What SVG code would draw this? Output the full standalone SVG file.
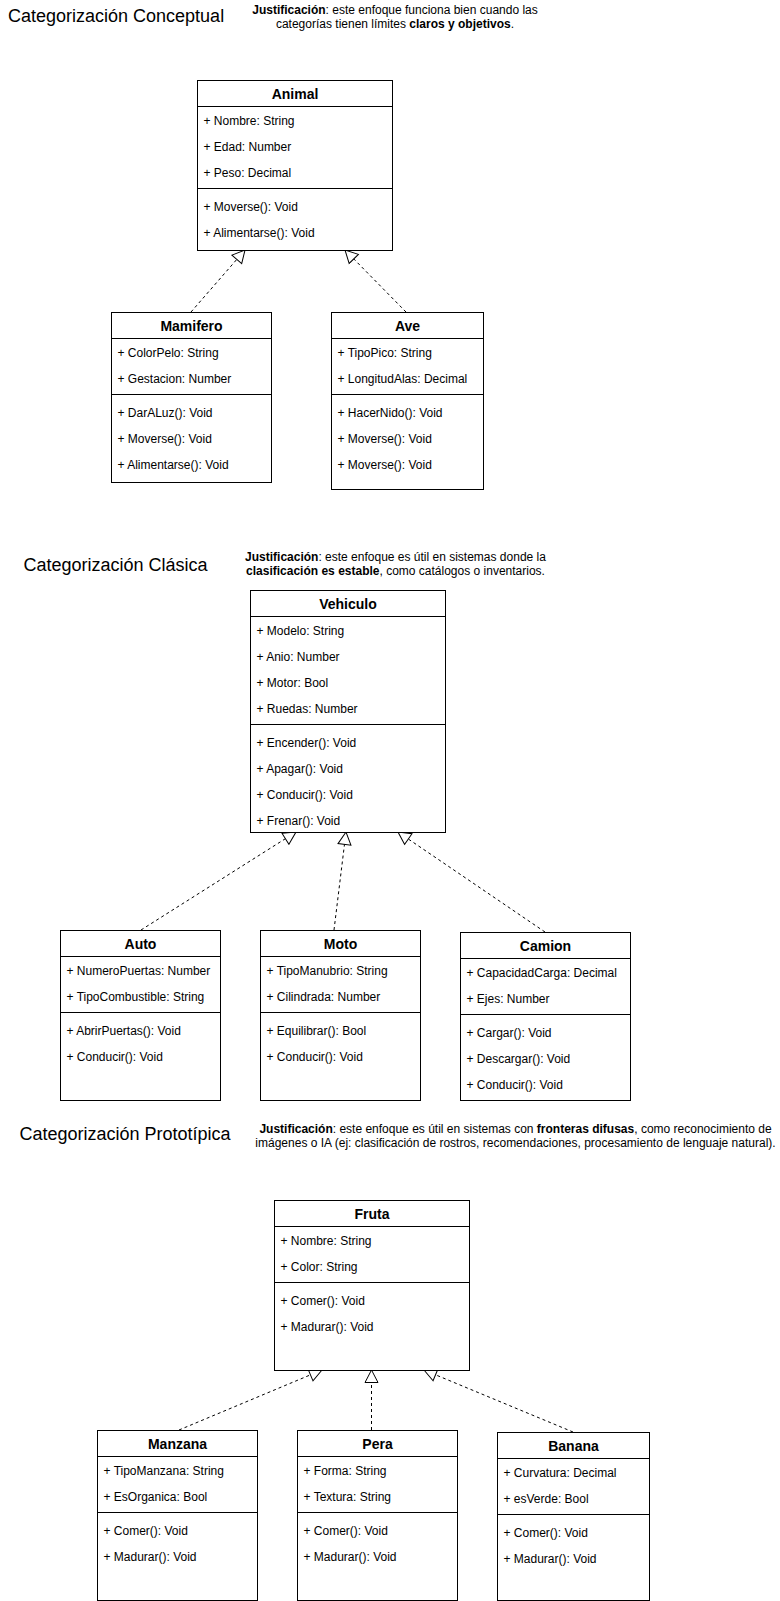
<svg xmlns="http://www.w3.org/2000/svg" width="780" height="1601" viewBox="0 0 780 1601">
<style>
.bg{fill:#fff}
.box{fill:#fff;stroke:#000;stroke-width:1}
.ln{stroke:#000;stroke-width:1;fill:none}
.t{font-family:"Liberation Sans",Arial,Helvetica,sans-serif;font-size:12px;fill:#000}
.h{font-weight:bold;text-anchor:middle;font-size:14px}
.title{font-size:18px}
.j{text-anchor:middle}
.b{font-weight:bold}
.conn{fill:none;stroke:#000;stroke-width:1;stroke-dasharray:3 3}
</style>
<defs>
<marker id="tri" markerUnits="userSpaceOnUse" viewBox="-1 -8 15 16" refX="12.5" refY="0" markerWidth="15" markerHeight="16" orient="auto">
<path d="M0,-6.5 L12.5,0 L0,6.5 Z" fill="#fff" stroke="#000" stroke-width="1" stroke-dasharray="none"/>
</marker>
</defs>
<rect class="bg" x="0" y="0" width="780" height="1601"/>

<g id="labels">
<text class="t title" x="8" y="22">Categorización Conceptual</text>
<text class="t j" x="395" y="13.5"><tspan class="b">Justificación</tspan>: este enfoque funciona bien cuando las</text>
<text class="t j" x="395" y="27.5">categorías tienen límites <tspan class="b">claros y objetivos</tspan>.</text>

<text class="t title" x="23.5" y="571">Categorización Clásica</text>
<text class="t j" x="395.5" y="561"><tspan class="b">Justificación</tspan>: este enfoque es útil en sistemas donde la</text>
<text class="t j" x="395.5" y="575"><tspan class="b">clasificación es estable</tspan>, como catálogos o inventarios.</text>

<text class="t title" x="19.5" y="1140">Categorización Prototípica</text>
<text class="t j" x="515.5" y="1132.5"><tspan class="b">Justificación</tspan>: este enfoque es útil en sistemas con <tspan class="b">fronteras difusas</tspan>, como reconocimiento de</text>
<text class="t j" x="515.5" y="1147">imágenes o IA (ej: clasificación de rostros, recomendaciones, procesamiento de lenguaje natural).</text>
</g>

<g id="connectors">
<path class="conn" d="M191,312 L245,250" marker-end="url(#tri)"/>
<path class="conn" d="M406,312 L345,250" marker-end="url(#tri)"/>
<path class="conn" d="M141,930 L296,832" marker-end="url(#tri)"/>
<path class="conn" d="M334,930 L346,832" marker-end="url(#tri)"/>
<path class="conn" d="M545,932 L398,832" marker-end="url(#tri)"/>
<path class="conn" d="M179,1430 L322,1370" marker-end="url(#tri)"/>
<path class="conn" d="M371.5,1430 L371.5,1370" marker-end="url(#tri)"/>
<path class="conn" d="M573,1432 L424,1370" marker-end="url(#tri)"/>
</g>

<g id="Animal">
<rect class="box" x="197.5" y="80.5" width="195" height="170"/>
<line class="ln" x1="197.5" y1="106.5" x2="392.5" y2="106.5"/>
<line class="ln" x1="197.5" y1="188.5" x2="392.5" y2="188.5"/>
<text class="t h" x="295" y="98.5">Animal</text>
<text class="t" x="203.5" y="124.5">+ Nombre: String</text>
<text class="t" x="203.5" y="150.5">+ Edad: Number</text>
<text class="t" x="203.5" y="176.5">+ Peso: Decimal</text>
<text class="t" x="203.5" y="210.5">+ Moverse(): Void</text>
<text class="t" x="203.5" y="236.5">+ Alimentarse(): Void</text>
</g>

<g id="Mamifero">
<rect class="box" x="111.5" y="312.5" width="160" height="170"/>
<line class="ln" x1="111.5" y1="338.5" x2="271.5" y2="338.5"/>
<line class="ln" x1="111.5" y1="394.5" x2="271.5" y2="394.5"/>
<text class="t h" x="191.5" y="330.5">Mamifero</text>
<text class="t" x="117.5" y="356.5">+ ColorPelo: String</text>
<text class="t" x="117.5" y="382.5">+ Gestacion: Number</text>
<text class="t" x="117.5" y="416.5">+ DarALuz(): Void</text>
<text class="t" x="117.5" y="442.5">+ Moverse(): Void</text>
<text class="t" x="117.5" y="468.5">+ Alimentarse(): Void</text>
</g>

<g id="Ave">
<rect class="box" x="331.5" y="312.5" width="152" height="177"/>
<line class="ln" x1="331.5" y1="338.5" x2="483.5" y2="338.5"/>
<line class="ln" x1="331.5" y1="394.5" x2="483.5" y2="394.5"/>
<text class="t h" x="407.5" y="330.5">Ave</text>
<text class="t" x="337.5" y="356.5">+ TipoPico: String</text>
<text class="t" x="337.5" y="382.5">+ LongitudAlas: Decimal</text>
<text class="t" x="337.5" y="416.5">+ HacerNido(): Void</text>
<text class="t" x="337.5" y="442.5">+ Moverse(): Void</text>
<text class="t" x="337.5" y="468.5">+ Moverse(): Void</text>
</g>

<g id="Vehiculo">
<rect class="box" x="250.5" y="590.5" width="195" height="242"/>
<line class="ln" x1="250.5" y1="616.5" x2="445.5" y2="616.5"/>
<line class="ln" x1="250.5" y1="724.5" x2="445.5" y2="724.5"/>
<text class="t h" x="348" y="608.5">Vehiculo</text>
<text class="t" x="256.5" y="634.5">+ Modelo: String</text>
<text class="t" x="256.5" y="660.5">+ Anio: Number</text>
<text class="t" x="256.5" y="686.5">+ Motor: Bool</text>
<text class="t" x="256.5" y="712.5">+ Ruedas: Number</text>
<text class="t" x="256.5" y="746.5">+ Encender(): Void</text>
<text class="t" x="256.5" y="772.5">+ Apagar(): Void</text>
<text class="t" x="256.5" y="798.5">+ Conducir(): Void</text>
<text class="t" x="256.5" y="824.5">+ Frenar(): Void</text>
</g>

<g id="Auto">
<rect class="box" x="60.5" y="930.5" width="160" height="170"/>
<line class="ln" x1="60.5" y1="956.5" x2="220.5" y2="956.5"/>
<line class="ln" x1="60.5" y1="1012.5" x2="220.5" y2="1012.5"/>
<text class="t h" x="140.5" y="948.5">Auto</text>
<text class="t" x="66.5" y="974.5">+ NumeroPuertas: Number</text>
<text class="t" x="66.5" y="1000.5">+ TipoCombustible: String</text>
<text class="t" x="66.5" y="1034.5">+ AbrirPuertas(): Void</text>
<text class="t" x="66.5" y="1060.5">+ Conducir(): Void</text>
</g>

<g id="Moto">
<rect class="box" x="260.5" y="930.5" width="160" height="170"/>
<line class="ln" x1="260.5" y1="956.5" x2="420.5" y2="956.5"/>
<line class="ln" x1="260.5" y1="1012.5" x2="420.5" y2="1012.5"/>
<text class="t h" x="340.5" y="948.5">Moto</text>
<text class="t" x="266.5" y="974.5">+ TipoManubrio: String</text>
<text class="t" x="266.5" y="1000.5">+ Cilindrada: Number</text>
<text class="t" x="266.5" y="1034.5">+ Equilibrar(): Bool</text>
<text class="t" x="266.5" y="1060.5">+ Conducir(): Void</text>
</g>

<g id="Camion">
<rect class="box" x="460.5" y="932.5" width="170" height="168"/>
<line class="ln" x1="460.5" y1="958.5" x2="630.5" y2="958.5"/>
<line class="ln" x1="460.5" y1="1014.5" x2="630.5" y2="1014.5"/>
<text class="t h" x="545.5" y="950.5">Camion</text>
<text class="t" x="466.5" y="976.5">+ CapacidadCarga: Decimal</text>
<text class="t" x="466.5" y="1002.5">+ Ejes: Number</text>
<text class="t" x="466.5" y="1036.5">+ Cargar(): Void</text>
<text class="t" x="466.5" y="1062.5">+ Descargar(): Void</text>
<text class="t" x="466.5" y="1088.5">+ Conducir(): Void</text>
</g>

<g id="Fruta">
<rect class="box" x="274.5" y="1200.5" width="195" height="170"/>
<line class="ln" x1="274.5" y1="1226.5" x2="469.5" y2="1226.5"/>
<line class="ln" x1="274.5" y1="1282.5" x2="469.5" y2="1282.5"/>
<text class="t h" x="372" y="1218.5">Fruta</text>
<text class="t" x="280.5" y="1244.5">+ Nombre: String</text>
<text class="t" x="280.5" y="1270.5">+ Color: String</text>
<text class="t" x="280.5" y="1304.5">+ Comer(): Void</text>
<text class="t" x="280.5" y="1330.5">+ Madurar(): Void</text>
</g>

<g id="Manzana">
<rect class="box" x="97.5" y="1430.5" width="160" height="170"/>
<line class="ln" x1="97.5" y1="1456.5" x2="257.5" y2="1456.5"/>
<line class="ln" x1="97.5" y1="1512.5" x2="257.5" y2="1512.5"/>
<text class="t h" x="177.5" y="1448.5">Manzana</text>
<text class="t" x="103.5" y="1474.5">+ TipoManzana: String</text>
<text class="t" x="103.5" y="1500.5">+ EsOrganica: Bool</text>
<text class="t" x="103.5" y="1534.5">+ Comer(): Void</text>
<text class="t" x="103.5" y="1560.5">+ Madurar(): Void</text>
</g>

<g id="Pera">
<rect class="box" x="297.5" y="1430.5" width="160" height="170"/>
<line class="ln" x1="297.5" y1="1456.5" x2="457.5" y2="1456.5"/>
<line class="ln" x1="297.5" y1="1512.5" x2="457.5" y2="1512.5"/>
<text class="t h" x="377.5" y="1448.5">Pera</text>
<text class="t" x="303.5" y="1474.5">+ Forma: String</text>
<text class="t" x="303.5" y="1500.5">+ Textura: String</text>
<text class="t" x="303.5" y="1534.5">+ Comer(): Void</text>
<text class="t" x="303.5" y="1560.5">+ Madurar(): Void</text>
</g>

<g id="Banana">
<rect class="box" x="497.5" y="1432.5" width="152" height="168"/>
<line class="ln" x1="497.5" y1="1458.5" x2="649.5" y2="1458.5"/>
<line class="ln" x1="497.5" y1="1514.5" x2="649.5" y2="1514.5"/>
<text class="t h" x="573.5" y="1450.5">Banana</text>
<text class="t" x="503.5" y="1476.5">+ Curvatura: Decimal</text>
<text class="t" x="503.5" y="1502.5">+ esVerde: Bool</text>
<text class="t" x="503.5" y="1536.5">+ Comer(): Void</text>
<text class="t" x="503.5" y="1562.5">+ Madurar(): Void</text>
</g>
</svg>
